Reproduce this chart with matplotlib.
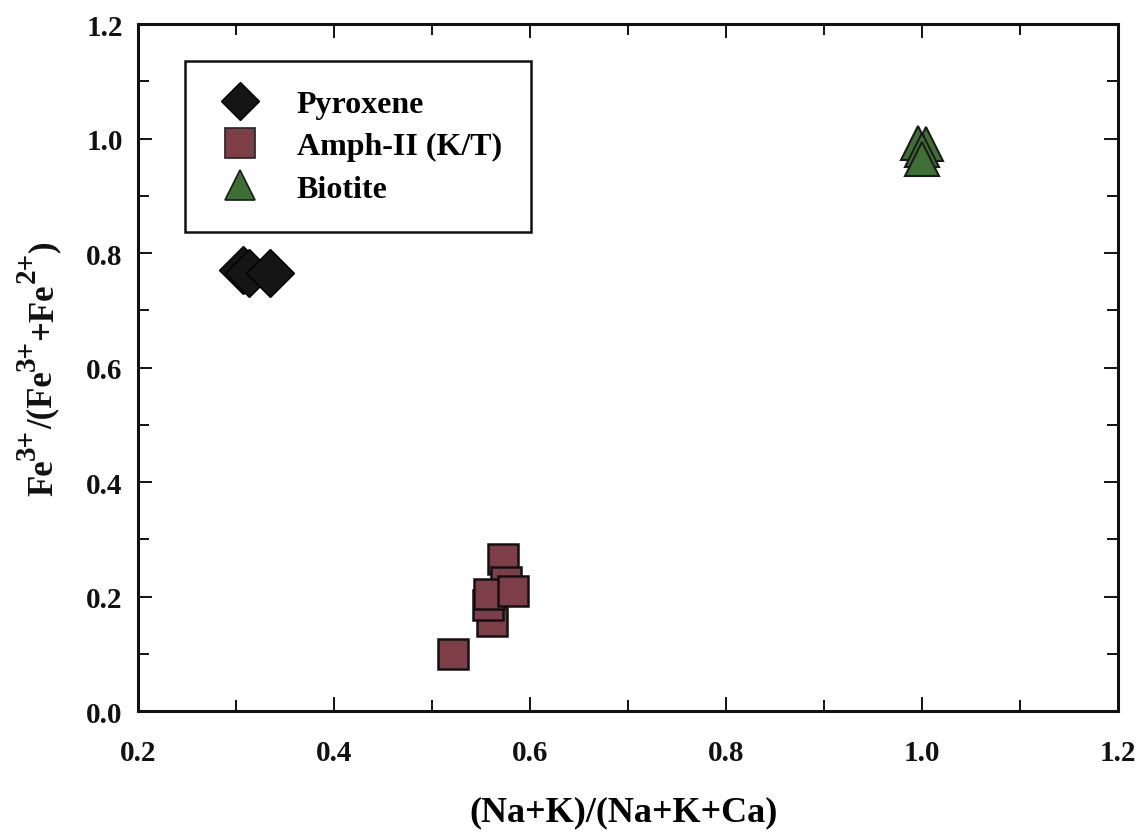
import matplotlib
matplotlib.use("Agg")
import matplotlib.pyplot as plt
from matplotlib.lines import Line2D
from matplotlib.ticker import MultipleLocator
from matplotlib.transforms import IdentityTransform

# Mineral chemistry ratios
pyroxene_x = [0.307, 0.313, 0.335]
pyroxene_y = [0.770, 0.765, 0.765]

amph_x = [0.572, 0.576, 0.561, 0.557, 0.558, 0.583, 0.521]
amph_y = [0.265, 0.225, 0.158, 0.185, 0.205, 0.210, 0.100]

biotite_x = [0.996, 1.004, 1.000, 1.000]
biotite_y = [0.992, 0.990, 0.980, 0.965]

series_labels = ["Pyroxene", "Amph-II (K/T)", "Biotite"]
x_ticks = [0.2, 0.4, 0.6, 0.8, 1.0, 1.2]
y_ticks = [0.0, 0.2, 0.4, 0.6, 0.8, 1.0, 1.2]

# y-axis title pieces: (text, font size, raised as superscript)
ylabel_parts = [("Fe", 25, False), ("3+", 21, True), ("/(Fe", 25, False), ("3+", 21, True),
                ("+Fe", 25, False), ("2+", 21, True), (")", 25, False)]

plt.rcParams["font.family"] = ["Liberation Serif", "DejaVu Serif"]
plt.rcParams["font.weight"] = "bold"

fig = plt.figure(figsize=(11.44, 8.37), dpi=100)
ax = fig.add_axes([0.1206, 0.1493, 0.8567, 0.8207])

pyro_color = "#151515"
amph_color = "#7d3e48"
bio_color = "#3e7036"

ax.plot(pyroxene_x, pyroxene_y, linestyle="none", marker="D", markersize=24,
        markerfacecolor=pyro_color, markeredgecolor="#000000", markeredgewidth=1.0, zorder=3)
ax.plot(amph_x, amph_y, linestyle="none", marker="s", markersize=21,
        markerfacecolor=amph_color, markeredgecolor="#111111", markeredgewidth=1.8, zorder=3)
ax.plot(biotite_x, biotite_y, linestyle="none", marker="^", markersize=25,
        markerfacecolor=bio_color, markeredgecolor="#1a1a1a", markeredgewidth=1.5, zorder=3)

ax.set_xlim(0.2, 1.2)
ax.set_ylim(0.0, 1.2)
ax.set_xticks(x_ticks)
ax.set_yticks(y_ticks)
ax.set_xticklabels([f"{v:.1f}" for v in x_ticks])
ax.set_yticklabels([f"{v:.1f}" for v in y_ticks])
ax.xaxis.set_minor_locator(MultipleLocator(0.1))
ax.yaxis.set_minor_locator(MultipleLocator(0.1))

ax.tick_params(which="both", direction="in", top=True, right=True, width=1.4, colors="#111111")
ax.tick_params(which="major", length=10, labelsize=21)
ax.tick_params(which="minor", length=8)
ax.tick_params(axis="x", which="major", pad=20)
ax.tick_params(axis="y", which="major", pad=11)
for lbl in ax.get_xticklabels() + ax.get_yticklabels():
    lbl.set_fontweight("bold")

for sp in ax.spines.values():
    sp.set_linewidth(2.2)
    sp.set_color("#111111")

ax.set_xlabel("(Na+K)/(Na+K+Ca)", fontsize=26, fontweight="bold")
ax.xaxis.set_label_coords(0.495, -0.122)

handles = [
    Line2D([], [], linestyle="none", marker="D", markersize=19,
           markerfacecolor=pyro_color, markeredgecolor="#000000", markeredgewidth=1.0),
    Line2D([], [], linestyle="none", marker="s", markersize=22,
           markerfacecolor=amph_color, markeredgecolor="#222222", markeredgewidth=1.2),
    Line2D([], [], linestyle="none", marker="^", markersize=22,
           markerfacecolor=bio_color, markeredgecolor="#1a1a1a", markeredgewidth=1.2),
]
leg = ax.legend(handles, series_labels, loc="upper left", bbox_to_anchor=(0.048, 0.946),
                borderaxespad=0, frameon=True, fancybox=False, shadow=False,
                prop={"family": "Liberation Serif", "weight": "bold", "size": 23},
                labelspacing=0.40, handletextpad=0.97, handlelength=1.63,
                borderpad=0.9)
leg.get_frame().set_edgecolor("#111111")
leg.get_frame().set_linewidth(1.8)
leg.get_frame().set_alpha(1)

# Compose the rotated y-axis title with full-height charge superscripts
fig.canvas.draw()
renderer = fig.canvas.get_renderer()
widths = []
for s, size, _ in ylabel_parts:
    probe = fig.text(0, 0, s, fontsize=size, fontweight="bold")
    widths.append(probe.get_window_extent(renderer).width)
    probe.remove()

ax_box = ax.get_window_extent(renderer)
baseline_x = ax_box.x0 - 86
pos = (ax_box.y0 + ax_box.y1) / 2 - sum(widths) / 2
for (s, size, sup), w in zip(ylabel_parts, widths):
    shift = 17 if sup else 0
    fig.text(baseline_x - shift, pos, s, fontsize=size, fontweight="bold",
             rotation=90, rotation_mode="anchor", ha="left", va="baseline",
             transform=IdentityTransform(), color="#111111")
    pos += w

fig.savefig("out.png", dpi=100, facecolor="white")
